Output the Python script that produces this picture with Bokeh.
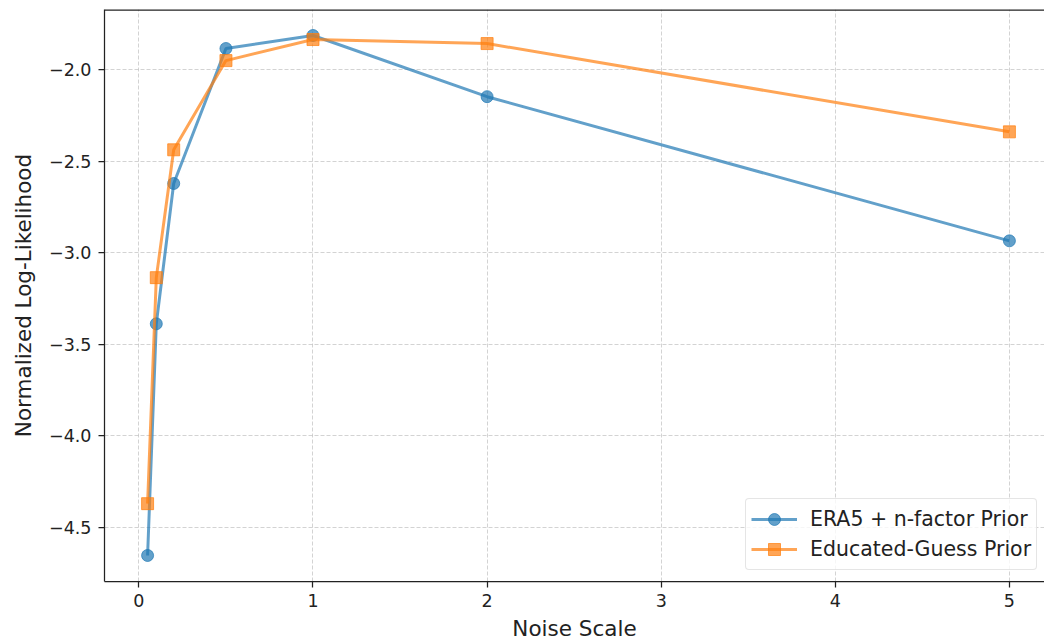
from bokeh.plotting import figure
from bokeh.models import Range1d, FixedTicker, CustomJSTickFormatter, Span, Legend, LegendItem
from bokeh.embed import file_html
from bokeh.resources import INLINE

# Noise scale values and normalized log-likelihoods for each prior
noise_scale = [0.05, 0.1, 0.2, 0.5, 1, 2, 5]
era5_prior = [-4.653, -3.388, -2.622, -1.885, -1.814, -2.148, -2.935]
educated_prior = [-4.370, -3.136, -2.438, -1.951, -1.836, -1.858, -2.340]
x_ticks = [0, 1, 2, 3, 4, 5]
y_ticks = [-4.5, -4.0, -3.5, -3.0, -2.5, -2.0]

FONT = "DejaVu Sans"
BLUE = "#1f77b4"
ORANGE = "#ff7f0e"

p = figure(width=1044, height=644, output_backend="svg", toolbar_location=None,
           x_range=Range1d(-0.1975, 5.2015), y_range=Range1d(-4.795, -1.672),
           min_border_left=104, min_border_right=0, min_border_top=9, min_border_bottom=63)

p.outline_line_color = None
p.background_fill_color = "white"
p.border_fill_color = "white"

# top spine
p.add_layout(Span(location=-1.672, dimension="width", line_color="#222222", line_width=2.5))

for ax in (p.xaxis, p.yaxis):
    ax.axis_line_color = "#222222"
    ax.axis_line_width = 1.25
    ax.major_tick_line_color = "#222222"
    ax.major_tick_line_width = 1.25
    ax.major_tick_out = 6
    ax.major_tick_in = 0
    ax.minor_tick_line_color = None
    ax.major_label_text_font = FONT
    ax.major_label_text_font_size = "17.5px"
    ax.major_label_text_color = "#222222"
    ax.axis_label_text_font = FONT
    ax.axis_label_text_font_size = "21.5px"
    ax.axis_label_text_font_style = "normal"
    ax.axis_label_text_color = "#222222"

p.xaxis.ticker = FixedTicker(ticks=x_ticks)
p.yaxis.ticker = FixedTicker(ticks=y_ticks)
p.yaxis.formatter = CustomJSTickFormatter(code="return tick.toFixed(1).replace('-', '\u2212');")
p.xaxis.axis_label = "Noise Scale"
p.yaxis.axis_label = "Normalized Log-Likelihood"
p.xaxis.major_label_standoff = 6
p.yaxis.major_label_standoff = 7
p.xaxis.axis_label_standoff = 6
p.yaxis.axis_label_standoff = 10

p.grid.grid_line_color = "#b0b0b0"
p.grid.grid_line_alpha = 0.7
p.grid.grid_line_dash = "4 2"
p.grid.grid_line_width = 0.8

l1 = p.line(noise_scale, era5_prior, line_color=BLUE, line_width=3, line_alpha=0.7)
s1 = p.scatter(noise_scale, era5_prior, marker="circle", size=12, fill_color=BLUE,
               line_color=BLUE, fill_alpha=0.7, line_alpha=0.7)
l2 = p.line(noise_scale, educated_prior, line_color=ORANGE, line_width=3, line_alpha=0.7)
s2 = p.scatter(noise_scale, educated_prior, marker="square", size=12, fill_color=ORANGE,
               line_color=ORANGE, fill_alpha=0.7, line_alpha=0.7)

legend = Legend(items=[
    LegendItem(label="ERA5 + n-factor Prior", renderers=[l1, s1]),
    LegendItem(label="Educated-Guess Prior", renderers=[l2, s2]),
], location=(641, 11))
legend.label_text_font = FONT
legend.label_text_font_size = "20.5px"
legend.label_text_color = "#222222"
legend.border_line_color = "#cccccc"
legend.border_line_width = 1
legend.border_radius = 4
legend.background_fill_alpha = 0.8
legend.glyph_width = 46
legend.glyph_height = 30
legend.label_height = 30
legend.spacing = 0
legend.padding = 5
legend.margin = 0
legend.label_standoff = 13
p.add_layout(legend)

open("out.html", "w").write(file_html(p, INLINE))
